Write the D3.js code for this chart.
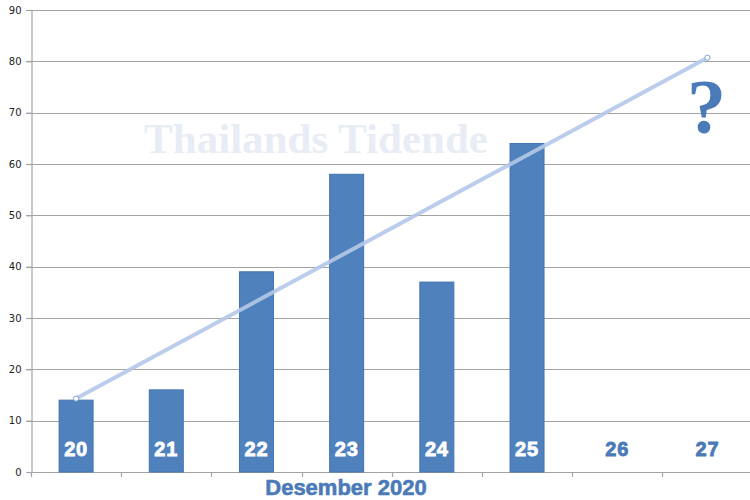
<!DOCTYPE html>
<html>
<head>
<meta charset="utf-8">
<script src="https://cdn.jsdelivr.net/npm/d3@7"></script>
<style>
  html, body { margin: 0; padding: 0; background: #fff; }
  svg { display: block; }
</style>
</head>
<body>
<svg id="chart" width="750" height="500"></svg>
<script>
// ---- data ----
const categories = ["20", "21", "22", "23", "24", "25", "26", "27"];
const values = [14, 16, 39, 58, 37, 64, null, null];
const trendCategories = ["20", "27"];
const trendValues = [14.3, 80.7];
const yTicks = [0, 10, 20, 30, 40, 50, 60, 70, 80, 90];
const axisTitle = "Desember 2020";
const watermark = "Thailands Tidende";
const questionMark = "?";

// ---- layout ----
const svg = d3.select("#chart");
const x0 = 31, x1 = 752.5, yTop = 10, yBot = 472;

const x = d3.scaleBand().domain(categories).range([x0, x1]).paddingInner(0.612).paddingOuter(0.306);
const y = d3.scaleLinear().domain([0, 90]).range([yBot, yTop]);
const step = x.step();
const cx = c => x(c) + x.bandwidth() / 2;

const gridColor = "#a3a3a3";
const blue = "#4f81bd";
const labelBlue = "#4a7ab8";

// gridlines
svg.append("g").selectAll("line").data(yTicks.filter(t => t > 0)).join("line")
  .attr("x1", 26).attr("x2", 750)
  .attr("y1", d => Math.round(y(d)) + 0.5).attr("y2", d => Math.round(y(d)) + 0.5)
  .attr("stroke", gridColor).attr("stroke-width", 1.2);

// watermark
svg.append("text")
  .attr("x", 316).attr("y", 153)
  .attr("text-anchor", "middle")
  .attr("font-family", "'Liberation Serif', 'DejaVu Serif', serif")
  .attr("font-weight", "bold")
  .attr("font-size", 43)
  .attr("fill", "#e8edf5")
  .text(watermark);

// y axis
const yAxis = d3.axisLeft(y).tickValues(yTicks).tickSize(5).tickPadding(5);
const gy = svg.append("g").attr("transform", `translate(${x0 + 0.5},0)`).call(yAxis);
gy.select(".domain").attr("stroke", gridColor).attr("stroke-width", 1.2);
gy.selectAll(".tick line").attr("stroke", gridColor).attr("stroke-width", 1.2);
gy.selectAll(".tick text")
  .attr("font-family", "'DejaVu Sans', Verdana, sans-serif")
  .attr("font-size", 10)
  .attr("fill", "#222");

// x axis line and ticks (between categories)
const xBoundaries = categories.map(c => x(c) - (step - x.bandwidth()) / 2);
svg.append("line")
  .attr("x1", x0).attr("x2", 750)
  .attr("y1", Math.round(y(0)) + 0.5).attr("y2", Math.round(y(0)) + 0.5)
  .attr("stroke", gridColor).attr("stroke-width", 1.2);
svg.append("g").selectAll("line").data(xBoundaries).join("line")
  .attr("x1", d => Math.round(d) + 0.5).attr("x2", d => Math.round(d) + 0.5)
  .attr("y1", Math.round(y(0))).attr("y2", Math.round(y(0)) + 5)
  .attr("stroke", gridColor).attr("stroke-width", 1.2);

// bars
const barData = categories.map((c, i) => ({ c, v: values[i] })).filter(d => d.v != null);
svg.append("g").selectAll("rect").data(barData).join("rect")
  .attr("x", d => x(d.c) + 0.5)
  .attr("y", d => y(d.v))
  .attr("width", x.bandwidth() - 1)
  .attr("height", d => y(0) - y(d.v))
  .attr("fill", blue)
  .attr("stroke", "#4274b0")
  .attr("stroke-width", 1);

// trend line
const trend = trendCategories.map((c, i) => ({ c, v: trendValues[i] }));
svg.append("path")
  .datum(trend)
  .attr("d", d3.line().x(d => cx(d.c)).y(d => y(d.v)))
  .attr("fill", "none")
  .attr("stroke", "#b4c8e8")
  .attr("stroke-opacity", 0.9)
  .attr("stroke-width", 4);
svg.append("g").selectAll("circle").data(trend).join("circle")
  .attr("cx", d => cx(d.c)).attr("cy", d => y(d.v))
  .attr("r", 2.6)
  .attr("fill", "#fff")
  .attr("stroke", "#7fa0d2")
  .attr("stroke-width", 1);

// category labels
svg.append("g").selectAll("text").data(categories).join("text")
  .attr("x", d => cx(d))
  .attr("y", 456)
  .attr("text-anchor", "middle")
  .attr("font-family", "'Liberation Sans', Arial, sans-serif")
  .attr("font-weight", "bold")
  .attr("font-size", 20)
  .attr("letter-spacing", 0.8)
  .attr("fill", (d, i) => values[i] != null ? "#fff" : labelBlue)
  .attr("stroke", (d, i) => values[i] != null ? "#fff" : labelBlue)
  .attr("stroke-width", 0.8)
  .text(d => d);

// axis title
svg.append("text")
  .attr("x", 346).attr("y", 495)
  .attr("text-anchor", "middle")
  .attr("font-family", "'Liberation Sans', Arial, sans-serif")
  .attr("font-weight", "bold")
  .attr("font-size", 22)
  .attr("fill", labelBlue)
  .attr("stroke", labelBlue)
  .attr("stroke-width", 0.6)
  .text(axisTitle);

// question mark
svg.append("text")
  .attr("x", cx("27") - 1).attr("y", 133)
  .attr("text-anchor", "middle")
  .attr("font-family", "'Liberation Serif', 'DejaVu Serif', serif")
  .attr("font-weight", "bold")
  .attr("font-size", 78)
  .attr("fill", labelBlue)
  .text(questionMark);
</script>
</body>
</html>
